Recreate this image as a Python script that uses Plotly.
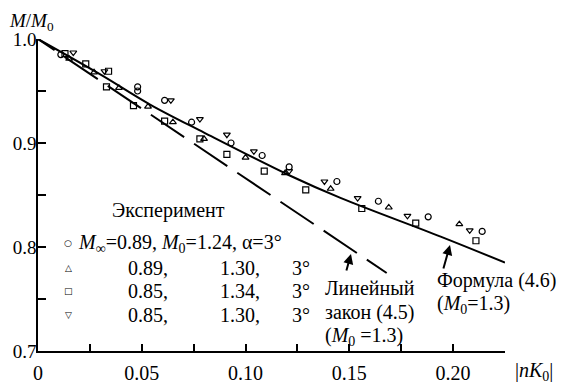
import plotly.graph_objects as go

# ---- data ----
formula_x = [0.0, 0.030, 0.054, 0.080, 0.121, 0.146, 0.194, 0.225]
formula_y = [1.0, 0.966, 0.937, 0.910, 0.869, 0.847, 0.810, 0.785]

linear_x = [0.0, 0.168]
linear_y = [1.0, 0.775]

circ_x = [0.011, 0.048, 0.048, 0.061, 0.074, 0.093, 0.108, 0.121, 0.144, 0.164, 0.188, 0.214]
circ_y = [0.985, 0.954, 0.950, 0.941, 0.920, 0.900, 0.888, 0.877, 0.863, 0.844, 0.829, 0.815]

triu_x = [0.015, 0.027, 0.039, 0.053, 0.065, 0.080, 0.100, 0.119, 0.141, 0.169, 0.203]
triu_y = [0.981, 0.968, 0.953, 0.935, 0.920, 0.904, 0.886, 0.871, 0.856, 0.838, 0.822]

sq_x = [0.013, 0.023, 0.034, 0.033, 0.046, 0.061, 0.078, 0.091, 0.109, 0.129, 0.156, 0.182, 0.211]
sq_y = [0.986, 0.976, 0.969, 0.954, 0.936, 0.921, 0.904, 0.889, 0.873, 0.855, 0.837, 0.823, 0.806]

trid_x = [0.017, 0.032, 0.064, 0.078, 0.091, 0.104, 0.121, 0.138, 0.154, 0.178, 0.208, 0.231]
trid_y = [0.987, 0.969, 0.941, 0.923, 0.908, 0.892, 0.873, 0.863, 0.847, 0.830, 0.816, 0.800]

x_tickvals = [0, 0.05, 0.10, 0.15, 0.20]
x_ticktext = ["0", "0.05", "0.10", "0.15", "0.20"]
y_tickvals = [0.7, 0.8, 0.9, 1.0]
y_ticktext = ["0.7", "0.8", "0.9", "1.0"]

legend_rows = [
    ("○", None, None, None),
    ("△", "0.89,", "1.30,", "3°"),
    ("□", "0.85,", "1.34,", "3°"),
    ("▽", "0.85,", "1.30,", "3°"),
]

# ---- layout geometry (page pixels; the page body adds an 8px offset) ----
OFF = 8
PAGE_W, PAGE_H = 571, 390
P_LEFT, P_RIGHT, P_TOP, P_BOTTOM = 38, 505, 39, 351   # plot area on the page
W, H = PAGE_W - OFF, PAGE_H - OFF
L = P_LEFT - OFF
T = P_TOP - OFF
R = W - (P_RIGHT - OFF)
B = H - (P_BOTTOM - OFF)
PW, PH = P_RIGHT - P_LEFT, P_BOTTOM - P_TOP
FONT = "Liberation Serif, Times New Roman, serif"


def px(xp):
    return (xp - P_LEFT) / PW


def py(yp):
    return (P_BOTTOM - yp) / PH


fig = go.Figure()

fig.add_trace(go.Scatter(x=formula_x, y=formula_y, mode="lines",
                         line=dict(color="black", width=2, shape="spline"),
                         showlegend=False, cliponaxis=False))
fig.add_trace(go.Scatter(x=linear_x, y=linear_y, mode="lines",
                         line=dict(color="black", width=2,
                                   dash="20px,12px" + ",40px,12px" * 10),
                         showlegend=False, cliponaxis=False))

for xs, ys, sym in [(circ_x, circ_y, "circle-open"),
                    (triu_x, triu_y, "triangle-up-open"),
                    (sq_x, sq_y, "square-open"),
                    (trid_x, trid_y, "triangle-down-open")]:
    fig.add_trace(go.Scatter(x=xs, y=ys, mode="markers",
                             marker=dict(symbol=sym, size=6, color="black",
                                         line=dict(color="black", width=1.2)),
                             showlegend=False, cliponaxis=False))

ann = []
tf = dict(family=FONT, size=20, color="black")


def text(t, xp, yp, xanchor="left", size=20, family=FONT, yanchor="middle"):
    ann.append(dict(text=t, x=px(xp), y=py(yp), xref="paper", yref="paper",
                    xanchor=xanchor, yanchor=yanchor, showarrow=False,
                    borderpad=0,
                    font=dict(family=family, size=size, color="black")))


text("<i>M</i>/<i>M</i><sub>0</sub>", 8, 9, size=19, yanchor="top")
text("|<i>nK</i><sub>0</sub>|", 514, 371)
text("Эксперимент", 168, 210, "center")
text("<i>M</i><sub>∞</sub>=0.89, <i>M</i><sub>0</sub>=1.24, α=3°", 77, 243)
row_y = [243, 268, 291, 315]
for (sym, a, b, c), yy in zip(legend_rows, row_y):
    text(sym, 68, yy, "center", size=9, family="DejaVu Sans")
    if a:
        text(a, 169, yy, "right")
        text(b, 261, yy, "right")
        text(c, 311, yy, "right")

text("Линейный", 324, 288)
text("закон (4.5)", 324, 312)
text("(<i>M</i><sub>0</sub> =1.3)", 324, 336)
text("Формула (4.6)", 436, 280)
text("(<i>M</i><sub>0</sub>=1.3)", 436, 304)

# arrows
for tx, ty, ax, ay in [(0.1508, 0.7933, -5, 18), (0.1985, 0.8019, -7, 25)]:
    ann.append(dict(text="", x=tx, y=ty, xref="x", yref="y", ax=ax, ay=ay,
                    showarrow=True, arrowhead=2, arrowsize=1, arrowwidth=2,
                    arrowcolor="black", standoff=0))

fig.update_layout(
    width=W, height=H, autosize=False,
    margin=dict(l=L, r=R, t=T, b=B, pad=0, autoexpand=False),
    paper_bgcolor="white", plot_bgcolor="white",
    font=tf,
    annotations=ann,
    xaxis=dict(range=[0, 0.225], showgrid=False, zeroline=False,
               showline=True, linecolor="black", linewidth=1.5,
               automargin=False,
               tickmode="array", tickvals=x_tickvals, ticktext=x_ticktext,
               ticks="inside", ticklen=7, tickwidth=1.5, tickcolor="black",
               ticklabelstandoff=3,
               minor=dict(ticks="inside", dtick=0.025, tick0=0, ticklen=7,
                          tickwidth=1.5, tickcolor="black"),
               tickfont=tf),
    yaxis=dict(range=[0.7, 1.0], showgrid=False, zeroline=False,
               showline=True, linecolor="black", linewidth=1.5,
               automargin=False,
               tickmode="array", tickvals=y_tickvals, ticktext=y_ticktext,
               ticks="inside", ticklen=8, tickwidth=1.5, tickcolor="black",
               ticklabelstandoff=-4,
               minor=dict(ticks="inside", dtick=0.05, tick0=0.7, ticklen=8,
                          tickwidth=1.5, tickcolor="black"),
               tickfont=dict(family=FONT, size=19, color="black")),
)

fig.write_html("out.html")
